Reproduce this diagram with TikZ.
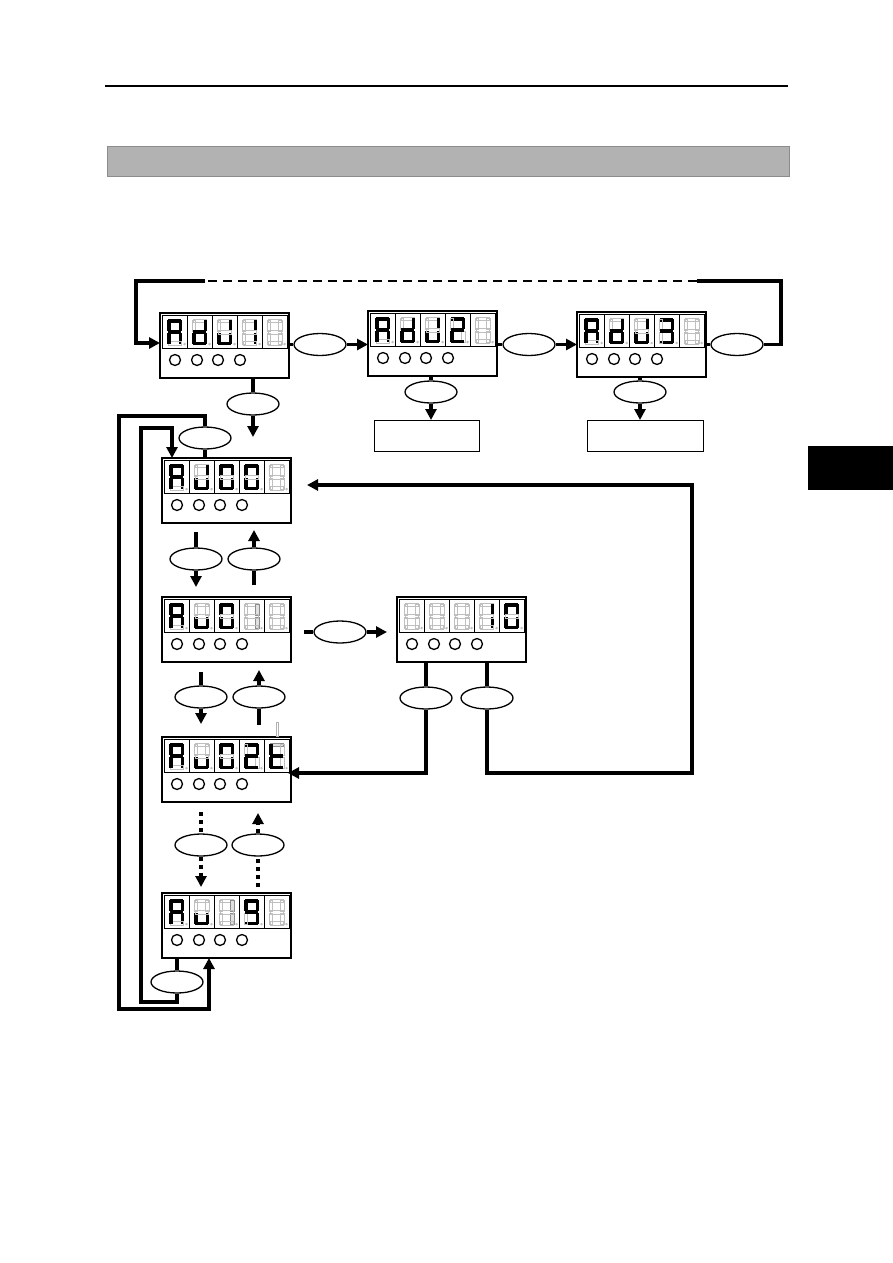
\documentclass[tikz,border=0pt]{standalone}
\usetikzlibrary{arrows.meta,shapes.geometric}
\tikzset{
 dbox/.style={draw,line width=2.2pt,minimum width=129pt,minimum height=65pt,anchor=north west,inner sep=0pt,outer sep=0pt},
 key/.style={draw,ellipse,line width=1.3pt,minimum width=52pt,minimum height=22pt,inner sep=0pt,fill=white},
 conn/.style={line width=3.2pt},
 arr/.style={conn,-{Triangle[length=11pt,width=11pt]}},
 dotline/.style={line width=3.5pt,dash pattern=on 4pt off 4pt},
 dotarr/.style={dotline,-{Triangle[length=11pt,width=11pt]}},
 segoff/.style={draw=black!25,line width=0.6pt},
 segdim/.style={draw=black!45,fill=black!12,line width=0.6pt},
 tbox/.style={draw,line width=1pt,anchor=north west,inner sep=0pt,minimum height=31pt},
}
\newcommand\seg[5]{\ifcase#1\relax \draw[segoff] ({#2},{#3}) rectangle ({#4},{#5});\or \fill[black] ({#2},{#3}) rectangle ({#4},{#5});\or \filldraw[segdim] ({#2},{#3}) rectangle ({#4},{#5});\fi}
\def\digparse#1#2#3#4#5#6#7\relax{%
 \seg{#1}{\dx+6}{\dy+4}{\dx+19}{\dy+7.5}%
 \seg{#2}{\dx+16.5}{\dy+5}{\dx+20}{\dy+16.2}%
 \seg{#3}{\dx+16.5}{\dy+17.8}{\dx+20}{\dy+29}%
 \seg{#4}{\dx+6}{\dy+26.5}{\dx+19}{\dy+30}%
 \seg{#5}{\dx+5}{\dy+17.8}{\dx+8.5}{\dy+29}%
 \seg{#6}{\dx+5}{\dy+5}{\dx+8.5}{\dy+16.2}%
 \seg{#7}{\dx+6}{\dy+15.2}{\dx+19}{\dy+18.8}%
 \draw[black!30,line width=0.5pt] ({\dx+22.5},{\dy+29}) circle[radius=0.9pt];}
\newcommand\dig[3]{\def\dx{#1}\def\dy{#2}\digparse#3\relax}
\newcommand\disp[7]{%
 \foreach \i in {0,...,4}{\draw[line width=0.9pt] ({#1+2+25*\i},{#2+2}) rectangle ({#1+27+25*\i},{#2+35});}
 \dig{#1+2}{#2+2}{#3}\dig{#1+27}{#2+2}{#4}\dig{#1+52}{#2+2}{#5}\dig{#1+77}{#2+2}{#6}\dig{#1+102}{#2+2}{#7}%
 \foreach \i in {15,37,58,80}{\draw[line width=1.3pt] ({#1+\i},{#2+47}) circle[radius=5.5pt];}
}
\begin{document}
\begin{tikzpicture}[x=1pt,y=-1pt]
\useasboundingbox (0,0) rectangle (893,1263);
% page furniture
\draw[line width=1.2pt] (105,86) coordinate (r1) -- (788,86) coordinate (r2);
\node[draw=black!45,fill=black!30,line width=0.8pt,minimum width=682pt,minimum height=30pt,anchor=north west,inner sep=0pt] (band) at (107,146) {};
\node[fill=black,minimum width=85pt,minimum height=44pt,anchor=north west,inner sep=0pt] (tab) at (808,446) {};
% display boxes
\node[dbox] (adj1) at (160,313) {};
\node[dbox] (adj2) at (368,311) {};
\node[dbox] (adj3) at (577,312) {};
\node[dbox] (aj00) at (162,458) {};
\node[dbox] (aj01) at (162,597) {};
\node[dbox] (val)  at (397,597) {};
\node[dbox] (aj02) at (162,737) {};
\node[dbox] (aj19) at (162,893) {};
\disp{160}{313}{1110111}{0111101}{0111100}{0110000}{0000000}
\disp{368}{311}{1110111}{0111101}{0111100}{1101101}{0000000}
\disp{577}{312}{1110111}{0111101}{0111100}{1111001}{0000000}
\disp{162}{458}{1110111}{0111100}{1111110}{1111110}{0000000}
\disp{162}{597}{1110111}{0011100}{1111110}{0220000}{0000000}
\disp{397}{597}{0000000}{0000000}{0000000}{0110000}{1111110}
\disp{162}{737}{1110111}{0011100}{1111110}{1101101}{2001111}
\disp{162}{893}{1110111}{0011100}{0220000}{1111011}{0000000}
\draw[black!30,line width=0.6pt] (276,722) rectangle (278.5,736);
% target boxes
\node[tbox,minimum width=105pt] (t2) at (374,420) {};
\node[tbox,minimum width=116pt] (t3) at (587,420) {};
% keys
\node[key] (k12) at (320,344.5) {};
\node[key] (k23) at (529,344.5) {};
\node[key] (k31) at (737,344.5) {};
\node[key] (k1d) at (253,404) {};
\node[key] (k2d) at (431,392) {};
\node[key] (k3d) at (640,392) {};
\node[key] (kout) at (205,438) {};
\node[key] (kin) at (177,982) {};
\node[key] (k01d) at (196,559) {};
\node[key] (k01u) at (254,559) {};
\node[key] (k12d) at (201,697) {};
\node[key] (k12u) at (259,697) {};
\node[key] (k2nd) at (201,845) {};
\node[key] (k2nu) at (258,845) {};
\node[key] (kval) at (340,632) {};
\node[key] (kv1) at (426,698) {};
\node[key] (kv2) at (487,698) {};
% top row
\draw[conn] (k12.west -| adj1.east) -- (k12.west);
\draw[arr] (k12.east) -- (k12.east -| adj2.west);
\draw[conn] (k23.west -| adj2.east) -- (k23.west);
\draw[arr] (k23.east) -- (k23.east -| adj3.west);
\draw[conn] (k31.west -| adj3.east) -- (k31.west);
\coordinate (tr) at (781,281);
\coordinate (da) at (697,281);
\coordinate (db) at (205,281);
\coordinate (tl) at (136,281);
\coordinate (tl2) at (136,343);
\draw[conn] (k31.east) -- (k31.east -| tr) -- (tr) -- (da);
\draw[line width=2.6pt,dash pattern=on 9pt off 6pt] (da) -- (db);
\draw[arr] (db) -- (tl) -- (tl2) -- (tl2 -| adj1.west);
% downward from top row
\coordinate (a1e) at (253,437);
\draw[conn] (k1d |- adj1.south) -- (k1d.north);
\draw[arr] (k1d.south) -- (a1e);
\draw[conn] (k2d |- adj2.south) -- (k2d.north);
\draw[arr] (k2d.south) -- (k2d |- t2.north);
\draw[conn] (k3d |- adj3.south) -- (k3d.north);
\draw[arr] (k3d.south) -- (k3d |- t3.north);
% outer loop AJ00 -> AJ19
\coordinate (o1) at (205,416);
\coordinate (o2) at (119,416);
\coordinate (o3) at (119,1009);
\coordinate (o4) at (209,1009);
\draw[conn] (kout |- aj00.north) -- (kout.south);
\draw[arr] (kout.north) -- (o1) -- (o2) -- (o3) -- (o4) -- (o4 |- aj19.south);
% inner loop AJ19 -> AJ00
\coordinate (i1) at (177,1002);
\coordinate (i2) at (141,1002);
\coordinate (i3) at (141,428);
\coordinate (i4) at (172,428);
\draw[conn] (kin |- aj19.south) -- (kin.north);
\draw[arr] (kin.south) -- (i1) -- (i2) -- (i3) -- (i4) -- (i4 |- aj00.north);
% AJ00 <-> AJ01
\draw[conn,shorten <=9pt] (k01d |- aj00.south) -- (k01d.north);
\draw[arr,shorten >=10pt] (k01d.south) -- (k01d |- aj01.north);
\draw[conn,shorten <=12pt] (k01u |- aj01.north) -- (k01u.south);
\draw[arr,shorten >=7pt] (k01u.north) -- (k01u |- aj00.south);
% AJ01 <-> AJ02
\draw[conn,shorten <=10pt] (k12d |- aj01.south) -- (k12d.north);
\draw[arr,shorten >=13pt] (k12d.south) -- (k12d |- aj02.north);
\draw[conn,shorten <=12pt] (k12u |- aj02.north) -- (k12u.south);
\draw[arr,shorten >=8pt] (k12u.north) -- (k12u |- aj01.south);
% AJ02 <-> AJ19 (dotted)
\draw[dotline,shorten <=10pt] (k2nd |- aj02.south) -- (k2nd.north);
\draw[dotarr,shorten >=6pt] (k2nd.south) -- (k2nd |- aj19.north);
\draw[dotline,shorten <=6pt] (k2nu |- aj19.north) -- (k2nu.south);
\draw[dotarr,shorten >=11pt] (k2nu.north) -- (k2nu |- aj02.south);
% AJ01 -> value
\draw[conn,shorten <=13pt] (kval.west -| aj01.east) -- (kval.west);
\draw[arr,shorten >=10pt] (kval.east) -- (kval.east -| val.west);
% value -> AJ02 / AJ00
\coordinate (c1) at (426,773);
\draw[conn] (kv1 |- val.south) -- (kv1.north);
\draw[arr,shorten >=-3pt] (kv1.south) -- (c1) -- (c1 -| aj02.east);
\coordinate (c2) at (487,773);
\coordinate (c3) at (692,773);
\coordinate (c4) at (692,485);
\draw[conn] (kv2 |- val.south) -- (kv2.north);
\draw[arr,shorten >=16pt] (kv2.south) -- (c2) -- (c3) -- (c4) -- (c4 -| aj00.east);
\end{tikzpicture}
\end{document}
